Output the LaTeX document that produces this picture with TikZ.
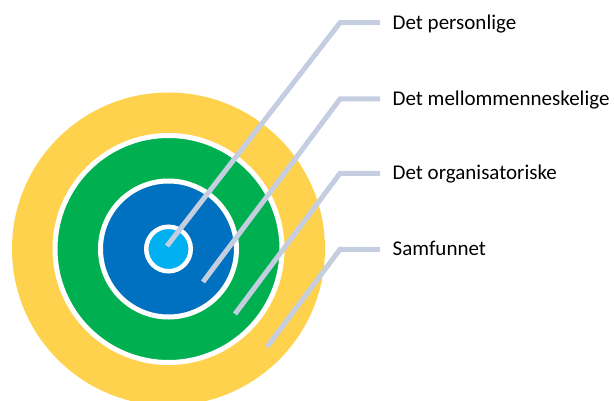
\documentclass[tikz,border=0pt]{standalone}
\usepackage{fontspec}
\setmainfont{Carlito}
\usetikzlibrary{positioning}
\definecolor{ringyellow}{HTML}{FFD24E}
\definecolor{ringgreen}{HTML}{00B050}
\definecolor{ringblue}{HTML}{0070C0}
\definecolor{ringcyan}{HTML}{00B0F0}
\definecolor{leadergray}{HTML}{C5CEE0}

\begin{document}
\begin{tikzpicture}[x=1pt, y=-1pt, every node/.style={font=\fontsize{21}{25}\selectfont, anchor=base west, inner sep=0pt}, ring/.style={draw=white, line width=5pt}, leader/.style={draw=leadergray, line width=5pt}]
	\useasboundingbox (0,0) rectangle (614,401);
	\coordinate (o) at (168.5,249);
	\fill[ringyellow] (o) circle[radius=156.5pt];
	\filldraw[ring, fill=ringgreen] (o) circle[radius=113.5pt];
	\filldraw[ring, fill=ringblue] (o) circle[radius=68pt];
	\filldraw[ring, fill=ringcyan, line width=4.5pt] (o) circle[radius=22.25pt];
	\foreach \sx/\sy/\ly/\id/\txt in {167/246/22.7/pers/Det personlige, 203/282/99/mell/Det mellommenneskelige, 235/314/173.3/org/Det organisatoriske, 267/347/249.3/samf/Samfunnet} {
		\coordinate (s-\id) at (\sx,\sy);
		\coordinate (k-\id) at (340,\ly);
		\coordinate (e-\id) at (380,\ly);
		\node (t-\id) at (392.5,\ly+6.5) {\txt};
		\draw[leader] (s-\id) -- (k-\id) -- (e-\id);
	}
\end{tikzpicture}
\end{document}
